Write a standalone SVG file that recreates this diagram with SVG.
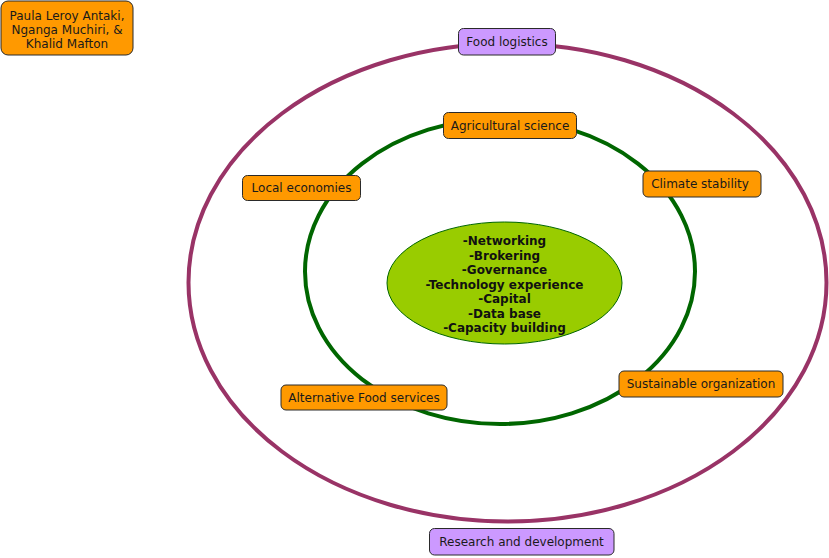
<svg xmlns="http://www.w3.org/2000/svg" width="829" height="558" viewBox="0 0 829 558">
<style>
.box{stroke:#2a2a2a;stroke-width:1}
.org{fill:#ff9900}
.pur{fill:#cc99ff}
.t{font-family:"DejaVu Sans",Verdana,sans-serif;font-size:12px;fill:#1a1a1a;text-anchor:middle}
.b{font-weight:bold;fill:#111}
</style>
<rect width="829" height="558" fill="#ffffff"/>
<g id="connectors">
<ellipse cx="507.5" cy="282.5" rx="319" ry="239" fill="none" stroke="#993366" stroke-width="4"/>
<ellipse cx="500" cy="271.5" rx="195" ry="152.5" fill="none" stroke="#006600" stroke-width="4"/>
</g>
<g id="core">
<ellipse cx="504.5" cy="283" rx="117.5" ry="61" fill="#99cc00" stroke="#006600" stroke-width="1"/>
<text class="t b" x="504.5" y="245">-Networking</text>
<text class="t b" x="504.5" y="259.5">-Brokering</text>
<text class="t b" x="504.5" y="274">-Governance</text>
<text class="t b" x="504.5" y="288.5">-Technology experience</text>
<text class="t b" x="504.5" y="303">-Capital</text>
<text class="t b" x="504.5" y="317.5">-Data base</text>
<text class="t b" x="504.5" y="332">-Capacity building</text>
</g>
<g id="authors">
<rect class="box org" x="1" y="1" width="132" height="54" rx="7"/>
<text class="t" x="67" y="19.5">Paula Leroy Antaki,</text>
<text class="t" x="67" y="33.5">Nganga Muchiri, &amp;</text>
<text class="t" x="67" y="47.5">Khalid Mafton</text>
</g>
<g id="food-logistics">
<rect class="box pur" x="458.5" y="28.5" width="97" height="26.5" rx="5"/>
<text class="t" x="507" y="46">Food logistics</text>
</g>
<g id="agricultural-science">
<rect class="box org" x="443.5" y="112.5" width="133" height="26" rx="5"/>
<text class="t" x="510" y="130">Agricultural science</text>
</g>
<g id="local-economies">
<rect class="box org" x="242.5" y="175.5" width="118" height="25" rx="5"/>
<text class="t" x="301.5" y="192">Local economies</text>
</g>
<g id="climate-stability">
<rect class="box org" x="643" y="171" width="118" height="26" rx="5"/>
<text class="t" x="700" y="188">Climate stability</text>
</g>
<g id="alternative-food-services">
<rect class="box org" x="281" y="385" width="166" height="25" rx="5"/>
<text class="t" x="364" y="402">Alternative Food services</text>
</g>
<g id="sustainable-organization">
<rect class="box org" x="619" y="371" width="164" height="26" rx="5"/>
<text class="t" x="701" y="388">Sustainable organization</text>
</g>
<g id="research-and-development">
<rect class="box pur" x="429.5" y="528.5" width="184.5" height="26.5" rx="5"/>
<text class="t" x="521.5" y="546">Research and development</text>
</g>
</svg>
